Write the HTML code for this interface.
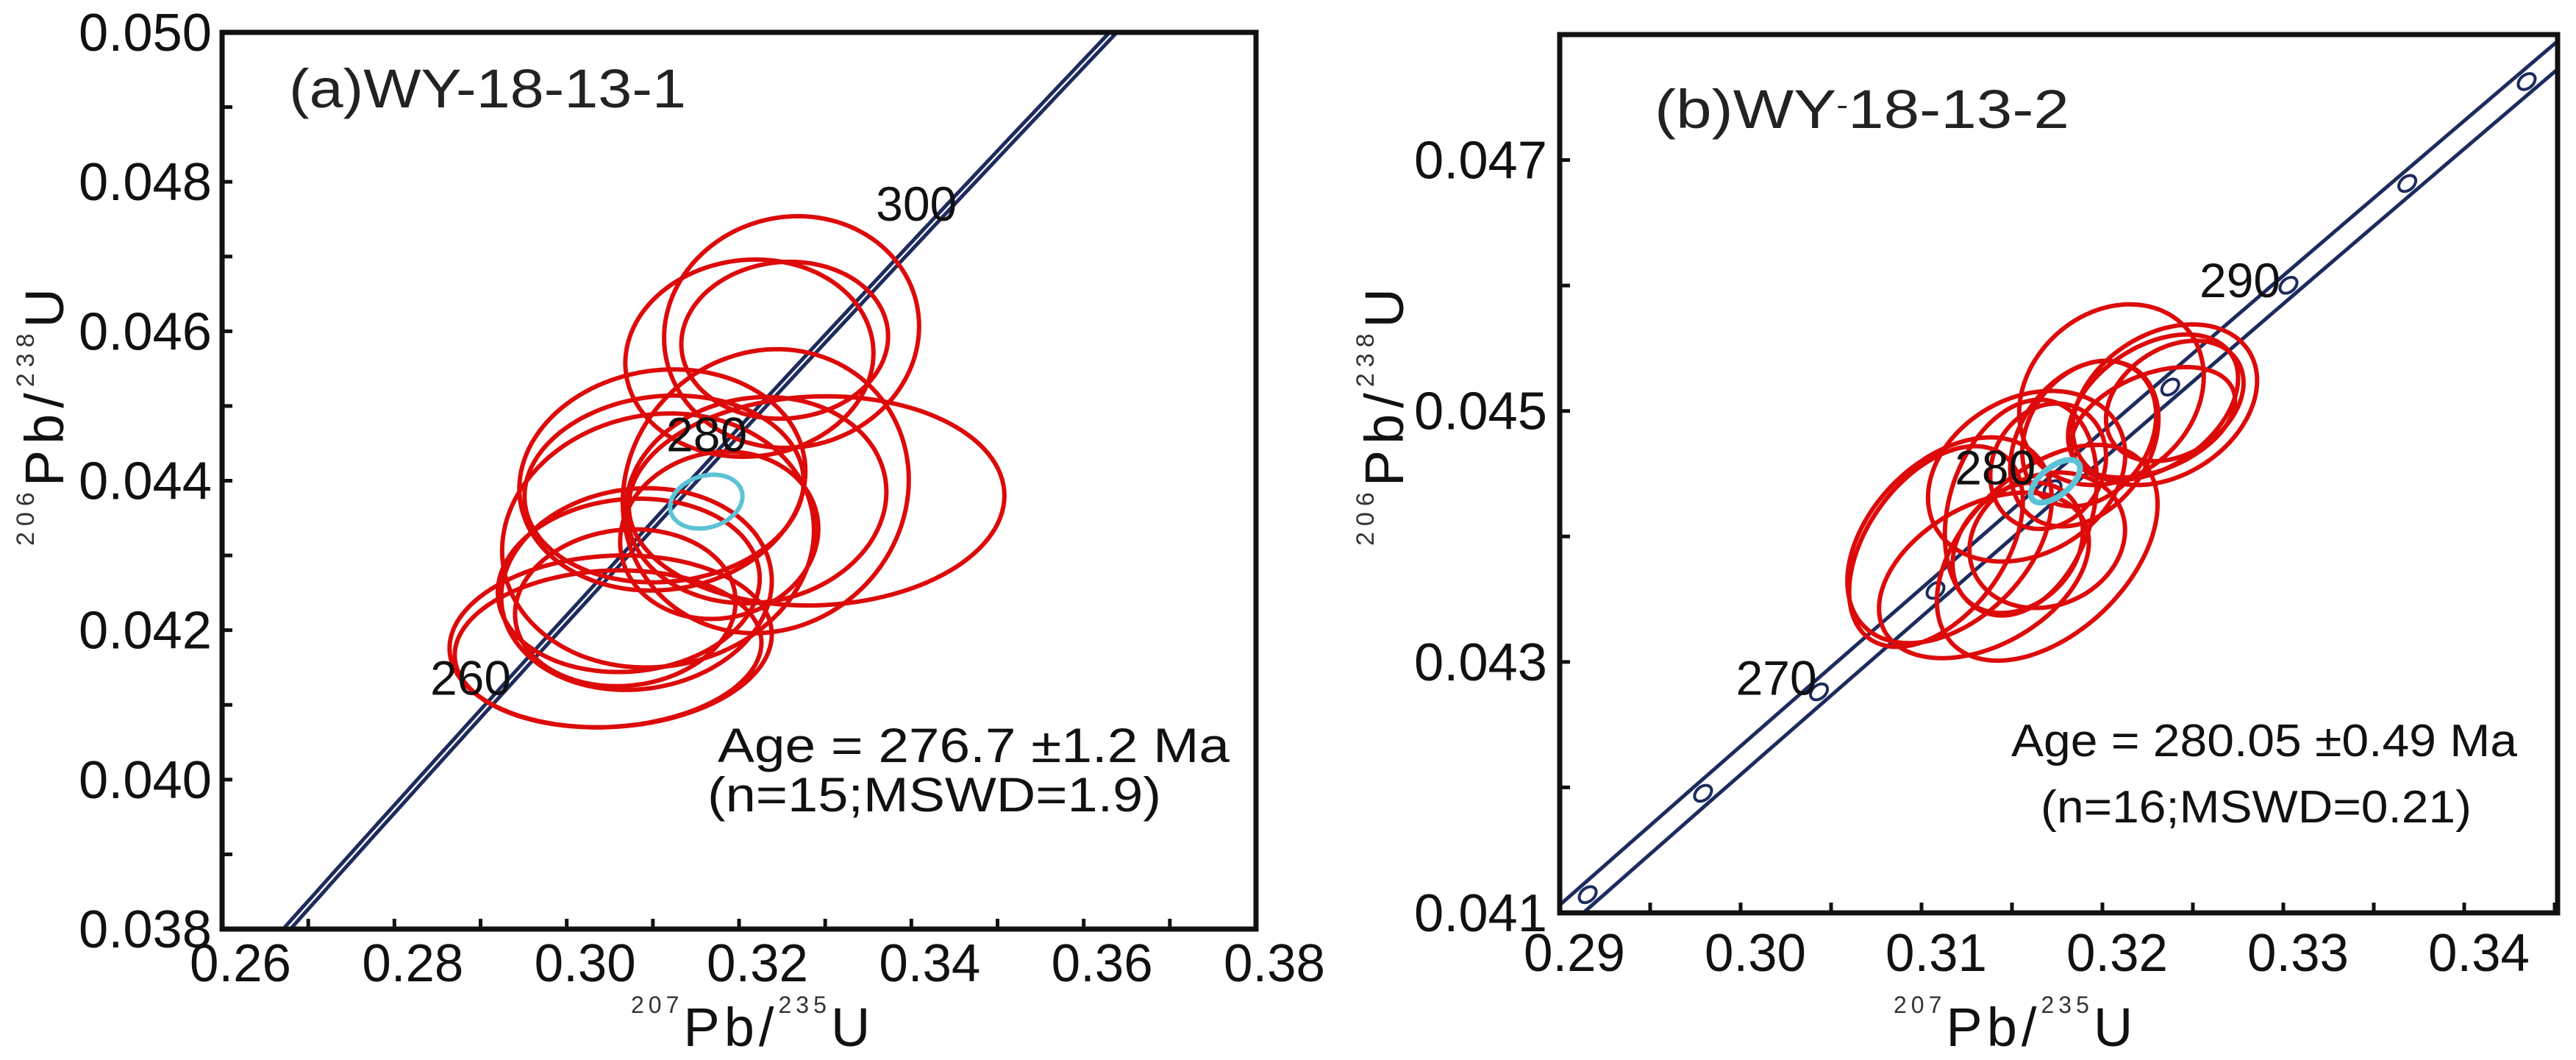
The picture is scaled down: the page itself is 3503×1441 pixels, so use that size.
<!DOCTYPE html>
<html><head><meta charset="utf-8"><title>U-Pb concordia diagrams</title>
<style>
html,body{margin:0;padding:0;background:#fff;width:3503px;height:1441px;overflow:hidden;}
svg{display:block;overflow:hidden;font-family:"Liberation Sans",Arial,sans-serif;}
</style></head>
<body>
<svg id="fig" xmlns="http://www.w3.org/2000/svg" width="3503" height="1441" viewBox="0 0 3503 1441">
<defs>
<clipPath id="clipA"><rect x="302" y="44" width="1406" height="1219"/></clipPath>
<clipPath id="clipB"><rect x="2121" y="47" width="1357" height="1194"/></clipPath>
</defs>
<g id="panelA"></g>
<g id="panelB"></g>
<g font-family="Liberation Sans, Arial, sans-serif" fill="#111">
<text x="393" y="146" font-size="74" textLength="540" lengthAdjust="spacingAndGlyphs" fill="#222">(a)WY-18-13-1</text>
<text x="2250" y="174" font-size="74" textLength="564" lengthAdjust="spacingAndGlyphs" fill="#222">(b)WY<tspan font-size="40" dy="-18">-</tspan><tspan dy="18">18-13-2</tspan></text>
<text x="976" y="1036" font-size="66" textLength="696" lengthAdjust="spacingAndGlyphs">Age = 276.7 ±1.2 Ma</text>
<text x="962" y="1103" font-size="66" textLength="617" lengthAdjust="spacingAndGlyphs">(n=15;MSWD=1.9)</text>
<text x="2735" y="1028" font-size="62" textLength="688" lengthAdjust="spacingAndGlyphs">Age = 280.05 ±0.49 Ma</text>
<text x="2775" y="1118" font-size="62" textLength="586" lengthAdjust="spacingAndGlyphs">(n=16;MSWD=0.21)</text>
<text x="858" y="1422" font-size="74"><tspan font-size="32" dy="-45" letter-spacing="6" fill="#333">207</tspan><tspan dy="45" letter-spacing="6">Pb/</tspan><tspan font-size="32" dy="-45" letter-spacing="6" fill="#333">235</tspan><tspan dy="45">U</tspan></text>
<text x="2575" y="1422" font-size="74"><tspan font-size="32" dy="-45" letter-spacing="6" fill="#333">207</tspan><tspan dy="45" letter-spacing="6">Pb/</tspan><tspan font-size="32" dy="-45" letter-spacing="6" fill="#333">235</tspan><tspan dy="45">U</tspan></text>
<text transform="translate(86,742) rotate(-90)" font-size="74"><tspan font-size="34" dy="-40" letter-spacing="8" fill="#333">206</tspan><tspan dy="40" letter-spacing="8">Pb/</tspan><tspan font-size="34" dy="-40" letter-spacing="8" fill="#333">238</tspan><tspan dy="40">U</tspan></text>
<text transform="translate(1908,742) rotate(-90)" font-size="74"><tspan font-size="34" dy="-40" letter-spacing="8" fill="#333">206</tspan><tspan dy="40" letter-spacing="8">Pb/</tspan><tspan font-size="34" dy="-40" letter-spacing="8" fill="#333">238</tspan><tspan dy="40">U</tspan></text>
</g>
</svg>
<script>
// ---------- Panel A data ----------
const aXTicks = [0.26,0.28,0.30,0.32,0.34,0.36,0.38];
const aXTickLabels = ["0.26","0.28","0.30","0.32","0.34","0.36","0.38"];
const aYTicks = [0.038,0.040,0.042,0.044,0.046,0.048,0.050];
const aYTickLabels = ["0.038","0.040","0.042","0.044","0.046","0.048","0.050"];
const aAgeLabels = [260,280,300];
// ellipses: centre x, centre y, half-width x, half-height y, correlation
const aCx = [0.3261,0.3253,0.3212,0.3231,0.3290,0.3111,0.3113,0.3106,0.3051,0.3048,0.3081,0.3068,0.3177,0.3220,0.3072];
const aCy = [0.04599,0.04588,0.04564,0.04386,0.04373,0.04401,0.04389,0.04320,0.04185,0.04175,0.04255,0.04230,0.04327,0.04374,0.04260];
const aSx = [0.0148,0.0120,0.0144,0.0166,0.0218,0.0166,0.0162,0.0181,0.0187,0.0178,0.0157,0.0128,0.0115,0.0151,0.0152];
const aSy = [0.00155,0.00105,0.00132,0.00190,0.00140,0.00148,0.00125,0.00170,0.00115,0.00105,0.00135,0.00105,0.00112,0.00138,0.00116];
const aRho = [0.05,0.05,0.05,0.08,0.05,0.08,0.08,0.08,0.08,0.08,0.08,0.08,0.08,0.08,0.08];
const aMean = [0.3162,0.04372,0.0042,0.00036,0.2];

// ---------- Panel B data ----------
const bXTicks = [0.29,0.30,0.31,0.32,0.33,0.34];
const bXTickLabels = ["0.29","0.30","0.31","0.32","0.33","0.34"];
const bYTicks = [0.041,0.043,0.045,0.047];
const bYTickLabels = ["0.041","0.043","0.045","0.047"];
const bAgeLabels = [270,280,290];
const bCx = [0.3205,0.32345,0.3228,0.3228,0.3190,0.31581,0.31549,0.31155,0.3108,0.31345,0.31695,0.31695,0.31532,0.3170,0.31927,0.3240];
const bCy = [0.04513,0.04505,0.04503,0.04491,0.04474,0.04448,0.04423,0.04397,0.04392,0.04369,0.04387,0.04397,0.04391,0.04456,0.04482,0.04508];
const bSx = [0.0051,0.0051,0.0047,0.00453,0.0041,0.00545,0.0042,0.00565,0.0048,0.0058,0.0061,0.0043,0.0036,0.0032,0.0037,0.0038];
const bSy = [0.00072,0.00064,0.00058,0.00044,0.00066,0.00068,0.00086,0.00082,0.00080,0.00066,0.00086,0.00054,0.00052,0.0005,0.00058,0.00048];
const bRho = [0.2,0.3,0.4,0.4,0.3,0.25,0.25,0.4,0.45,0.4,0.45,0.15,0.25,0.15,0.25,0.3];
const bMean = [0.3174,0.04444,0.00136,0.00017,0.6];

const NS = "http://www.w3.org/2000/svg";
const L238 = 1.55125e-4, L235 = 9.8485e-4; // per Ma
function mk(tag, attrs, parent){
  const e = document.createElementNS(NS, tag);
  for (const k in attrs) e.setAttribute(k, attrs[k]);
  parent.appendChild(e);
  return e;
}

function drawPanel(g, cfg){
  const sx = v => cfg.px0 + (v - cfg.x0) / (cfg.x1 - cfg.x0) * (cfg.px1 - cfg.px0);
  const sy = v => cfg.py0 - (v - cfg.y0) / (cfg.y1 - cfg.y0) * (cfg.py0 - cfg.py1);
  const plot = mk("g", {"clip-path": "url(#" + cfg.clip + ")"}, g);
  
  

  const conc = mk("g", {}, plot);
  
  
  cfg.offsets.forEach(off => {
    let d = "";
    for (let t = cfg.t0; t <= cfg.t1; t += 1) {
      const x = Math.exp(L235 * t) - 1, y = Math.exp(L238 * t) - 1;
      d += (d ? "L" : "M") + (sx(x) + off[0]).toFixed(1) + "," + (sy(y) + off[1]).toFixed(1);
    }
    const p = mk("path", {d: d, fill: "none", stroke: "#1d2b5e", "stroke-width": cfg.lw}, conc);
    
    
  });
  if (cfg.markers) {
    for (let t = 250; t <= 310; t += 5) {
      const x = Math.exp(L235 * t) - 1, y = Math.exp(L238 * t) - 1;
      const m = mk("ellipse", {cx: sx(x) + cfg.mk[0], cy: sy(y) + cfg.mk[1], rx: 13, ry: 9,
        transform: "rotate(-40 " + (sx(x) + cfg.mk[0]) + " " + (sy(y) + cfg.mk[1]) + ")",
        fill: "#fff", stroke: "#1d2b5e", "stroke-width": 4}, plot);
      
      
    }
  }
  function ell(cx, cy, ex, ey, rho, color, w, name){
    let d = "";
    const k = Math.sqrt(1 - rho * rho);
    for (let i = 0; i <= 120; i++) {
      const a = i / 120 * 2 * Math.PI;
      const x = cx + ex * Math.cos(a);
      const y = cy + ey * (rho * Math.cos(a) + k * Math.sin(a));
      d += (i ? "L" : "M") + sx(x).toFixed(1) + "," + sy(y).toFixed(1);
    }
    const p = mk("path", {d: d + "Z", fill: "none", stroke: color, "stroke-width": w}, plot);
    
    
  }
  for (let i = 0; i < cfg.cx.length; i++) ell(cfg.cx[i], cfg.cy[i], cfg.sxv[i], cfg.syv[i], cfg.rho[i], "#dd0a0a", 6, 'analysis-ellipse');
  ell(cfg.mean[0], cfg.mean[1], cfg.mean[2], cfg.mean[3], cfg.mean[4], "#5cc3d6", cfg.meanW, 'weighted-mean-ellipse');

  cfg.ageLabels.forEach((t, i) => {
    const x = Math.exp(L235 * t) - 1, y = Math.exp(L238 * t) - 1;
    const tx = mk("text", {x: sx(x) + cfg.ageOff[i][0], y: sy(y) + cfg.ageOff[i][1], "font-size": 66, fill: "#111"}, g);
    tx.textContent = String(t);
    
    
  });

  const fr = mk("rect", {x: cfg.px0, y: cfg.py1, width: cfg.px1 - cfg.px0, height: cfg.py0 - cfg.py1, fill: "none", stroke: "#111", "stroke-width": 7}, g);
  
  

  for (let v = cfg.x0; v <= cfg.x1 + 1e-9; v += cfg.xMinor) {
    const X = sx(v);
    const tk = mk("line", {x1: X, y1: cfg.py0, x2: X, y2: cfg.py0 - 14, stroke: "#111", "stroke-width": 5}, g);
    
    
  }
  for (let v = cfg.y0; v <= cfg.y1 + 1e-9; v += cfg.yMinor) {
    const Y = sy(v);
    const tk = mk("line", {x1: cfg.px0, y1: Y, x2: cfg.px0 + 14, y2: Y, stroke: "#111", "stroke-width": 5}, g);
    
    
  }
  cfg.xTicks.forEach((v, i) => {
    const t = mk("text", {x: sx(v) + cfg.xLabOff, y: cfg.xLabY, "font-size": 72, "text-anchor": "middle", fill: "#111", textLength: 138, lengthAdjust: "spacingAndGlyphs"}, g);
    t.textContent = cfg.xTickLabels[i];
    
    
  });
  cfg.yTicks.forEach((v, i) => {
    const t = mk("text", {x: cfg.yLabX, y: sy(v) + 25, "font-size": 72, "text-anchor": "end", fill: "#111", textLength: 181, lengthAdjust: "spacingAndGlyphs"}, g);
    t.textContent = cfg.yTickLabels[i];
    
    
  });
}

drawPanel(document.getElementById("panelA"), {
  id: "panel-a", clip: "clipA",
  px0: 302, px1: 1708, py0: 1263, py1: 44,
  x0: 0.26, x1: 0.38, y0: 0.038, y1: 0.050,
  xMinor: 0.01, yMinor: 0.001,
  xTicks: aXTicks, xTickLabels: aXTickLabels, yTicks: aYTicks, yTickLabels: aYTickLabels,
  xLabOff: 25, xLabY: 1334, yLabX: 288,
  t0: 200, t1: 350, offsets: [[-1, 0], [9, 0]], lw: 5, markers: false,
  cx: aCx, cy: aCy, sxv: aSx, syv: aSy, rho: aRho, mean: aMean, meanW: 6,
  ageLabels: aAgeLabels, ageOff: [[-90, 2], [-70, 0], [-92, 16]]
});
drawPanel(document.getElementById("panelB"), {
  id: "panel-b", clip: "clipB",
  px0: 2121, px1: 3478, py0: 1241, py1: 47,
  x0: 0.29, x1: 0.29 + 1357 / 24600, y0: 0.041, y1: 0.048,
  xMinor: 0.005, yMinor: 0.001,
  xTicks: bXTicks, xTickLabels: bXTickLabels, yTicks: bYTicks, yTickLabels: bYTickLabels,
  xLabOff: 20, xLabY: 1320, yLabX: 2104,
  t0: 240, t1: 320, offsets: [[-20, -6], [6, 10]], lw: 5, markers: true, mk: [-7, 2],
  cx: bCx, cy: bCy, sxv: bSx, syv: bSy, rho: bRho, mean: bMean, meanW: 8,
  ageLabels: bAgeLabels, ageOff: [[-120, 6], [-140, -4], [-128, 18]]
});
</script>
</body></html>
